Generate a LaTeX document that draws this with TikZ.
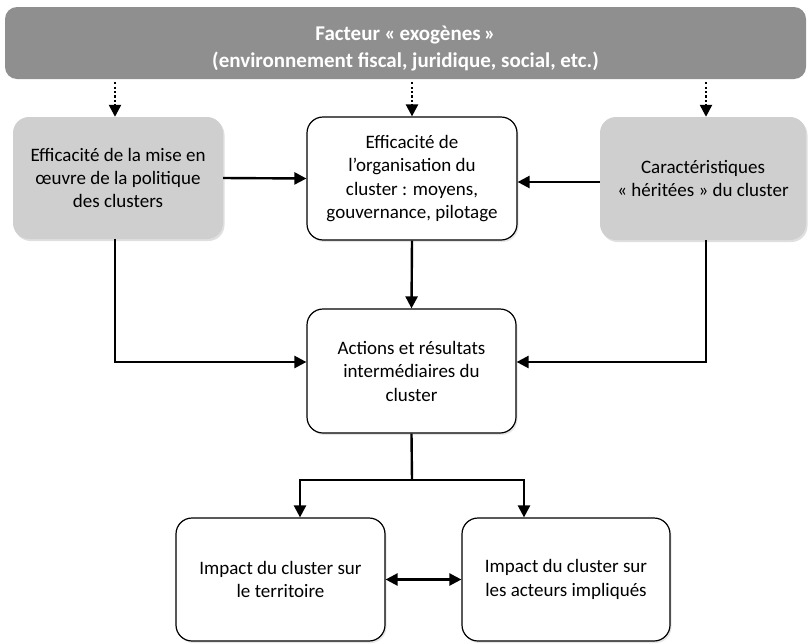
\documentclass[tikz,border=0pt]{standalone}
\usepackage{fontspec}
\setmainfont{Carlito}
\usetikzlibrary{arrows.meta,shadows}
\definecolor{bannergray}{HTML}{8F8F8F}
\definecolor{boxgray}{HTML}{CFCFCF}
\tikzset{
  banner/.style={rounded corners=12pt, fill=bannergray, text=white, align=center,
    font=\fontsize{21}{27}\selectfont\bfseries, inner sep=0pt},
  graybox/.style={rounded corners=16pt, fill=boxgray, align=center,
    font=\fontsize{19}{23}\selectfont, inner sep=0pt,
    drop shadow={opacity=0.25, shadow xshift=1.5pt, shadow yshift=-2pt}},
  whitebox/.style={rounded corners=16pt, fill=white, draw=black, line width=1.2pt, align=center,
    font=\fontsize{19}{23.5}\selectfont, inner sep=0pt,
    drop shadow={opacity=0.2, shadow xshift=1.5pt, shadow yshift=-2pt}},
  tip/.tip={Triangle[length=12pt,width=12pt]},
  link/.style={line width=2.4pt, -tip},
  plainlink/.style={line width=2.4pt},
  dotlink/.style={line width=2.4pt, dash pattern=on 2.2pt off 2.2pt, -tip},
  bilink/.style={line width=2.4pt, tip-tip}
}
\begin{document}
\begin{tikzpicture}[x=1pt,y=-1pt]
\useasboundingbox (0,0) rectangle (809,643);
\node[banner, minimum width=801pt, minimum height=72pt] (ban) at (405.5,43)
  {\rule{0pt}{25pt}Facteur «\,exogènes\,»\\(environnement fiscal, juridique, social, etc.)};
\node[graybox, minimum width=210pt, minimum height=122pt] (left) at (118,178)
  {Efficacité de la mise en\\œuvre de la politique\\des clusters};
\node[whitebox, minimum width=210pt, minimum height=123pt] (mid) at (412,178.5)
  {Efficacité de\\l’organisation du\\cluster : moyens,\\gouvernance, pilotage};
\node[graybox, minimum width=206pt, minimum height=123pt] (right) at (703,178.5)
  {Caractéristiques\\« héritées » du cluster};
\node[whitebox, minimum width=209pt, minimum height=124pt] (act) at (411.5,371)
  {Actions et résultats\\intermédiaires du\\cluster};
\node[whitebox, minimum width=209pt, minimum height=123pt] (bl) at (280.5,579.5)
  {Impact du cluster sur\\le territoire};
\node[whitebox, minimum width=208pt, minimum height=123pt] (br) at (566,579.5)
  {Impact du cluster sur\\les acteurs impliqués};
\coordinate (j) at (412,480);

\draw[dotlink] ([xshift=-3pt]left.north |- ban.south) ++(0,3) -- ([xshift=-3pt]left.north);
\draw[dotlink] (mid.north |- ban.south) ++(0,3) -- (mid.north);
\draw[dotlink] ([xshift=3pt]right.north |- ban.south) ++(0,3) -- ([xshift=3pt]right.north);

\draw[link] (left.east) -- (mid.west);
\draw[link] ([yshift=-3.5pt]right.west) -- ([yshift=-3.5pt]mid.east);
\draw[link] (mid.south) -- (act.north);
\draw[link] ([xshift=-3pt]left.south) |- ([yshift=9pt]act.west);
\draw[link] ([xshift=3pt]right.south) |- ([yshift=9pt]act.east);
\draw[plainlink] (act.south) -- (j);
\draw[link] (j) -| ([xshift=19.5pt]bl.north);
\draw[link] (j) -| ([xshift=-42pt]br.north);
\draw[bilink] (bl.east) -- (br.west);
\end{tikzpicture}
\end{document}
